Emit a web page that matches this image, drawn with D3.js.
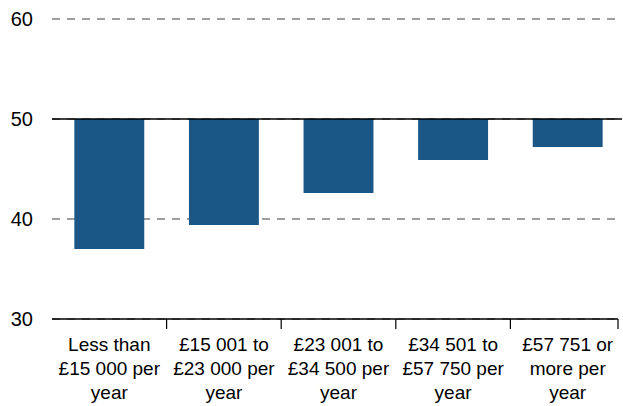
<!DOCTYPE html>
<html>
<head>
<meta charset="utf-8">
<script src="https://cdn.jsdelivr.net/npm/d3@7"></script>
<style>
  body { margin: 0; background: #fff; }
  text { font-family: "Liberation Sans", Arial, sans-serif; fill: #000; }
</style>
</head>
<body>
<div id="chart"></div>
<script>
var categories = [
  ["Less than", "£15 000 per", "year"],
  ["£15 001 to", "£23 000 per", "year"],
  ["£23 001 to", "£34 500 per", "year"],
  ["£34 501 to", "£57 750 per", "year"],
  ["£57 751 or", "more per", "year"]
];
var values = [37.0, 39.4, 42.6, 45.9, 47.2];
var baseline = 50;
var yTicks = [30, 40, 50, 60];

var svgWidth = 623, svgHeight = 406;
var margin = { top: 19, right: 1, bottom: 87, left: 52 };
var width = svgWidth - margin.left - margin.right;
var height = svgHeight - margin.top - margin.bottom;
var axisEnd = 566;

var svg = d3.select("#chart").append("svg")
  .attr("width", svgWidth)
  .attr("height", svgHeight);

var chartGroup = svg.append("g")
  .attr("transform", `translate(${margin.left}, ${margin.top})`);

var x = d3.scaleBand()
  .domain(d3.range(categories.length))
  .range([0, 573])
  .paddingInner(0.39)
  .paddingOuter(0.195);

var y = d3.scaleLinear()
  .domain([30, 60])
  .range([height, 0]);

// dashed gridlines
chartGroup.selectAll(".grid")
  .data(yTicks)
  .enter()
  .append("line")
  .attr("x1", 0)
  .attr("x2", axisEnd + 2)
  .attr("y1", d => y(d))
  .attr("y2", d => y(d))
  .attr("stroke", "#7f7f7f")
  .attr("stroke-width", 1.5)
  .attr("stroke-dasharray", "8,7");

// y labels
chartGroup.selectAll(".ylab")
  .data(yTicks)
  .enter()
  .append("text")
  .attr("x", -19)
  .attr("y", d => y(d))
  .attr("dy", "0.36em")
  .attr("text-anchor", "end")
  .attr("font-size", 20)
  .text(d => d);

// bars
chartGroup.selectAll(".bar")
  .data(values)
  .enter()
  .append("rect")
  .attr("x", (d, i) => x(i))
  .attr("width", x.bandwidth())
  .attr("y", y(baseline))
  .attr("height", d => y(d) - y(baseline))
  .attr("fill", "#1a5686");

// baseline at 50
chartGroup.append("line")
  .attr("x1", 0)
  .attr("x2", width)
  .attr("y1", y(baseline))
  .attr("y2", y(baseline))
  .attr("stroke", "#000")
  .attr("stroke-width", 1.5);

// x axis
var bottomAxis = d3.axisBottom(x).tickSize(0).tickFormat("");
var xAxis = chartGroup.append("g")
  .attr("transform", `translate(0, ${height})`)
  .call(bottomAxis);
xAxis.select(".domain").remove();
xAxis.append("line")
  .attr("x1", 0)
  .attr("x2", axisEnd)
  .attr("stroke", "#000")
  .attr("stroke-width", 1.5);

var sepX = d3.range(categories.length - 1)
  .map(i => x(i) + x.bandwidth() + x.step() * x.paddingInner() / 2)
  .concat([axisEnd]);
xAxis.selectAll(".sep")
  .data(sepX)
  .enter()
  .append("line")
  .attr("x1", d => d)
  .attr("x2", d => d)
  .attr("y1", 0)
  .attr("y2", 10)
  .attr("stroke", "#000")
  .attr("stroke-width", 1.2);

// category labels
categories.forEach(function(lines, i) {
  var t = chartGroup.append("text")
    .attr("text-anchor", "middle")
    .attr("font-size", 19)
    .attr("transform", `translate(${x(i) + x.bandwidth() / 2}, ${height + 32})`);
  lines.forEach(function(s, j) {
    t.append("tspan")
      .attr("x", 0)
      .attr("y", j * 24)
      .text(s);
  });
});
</script>
</body>
</html>
